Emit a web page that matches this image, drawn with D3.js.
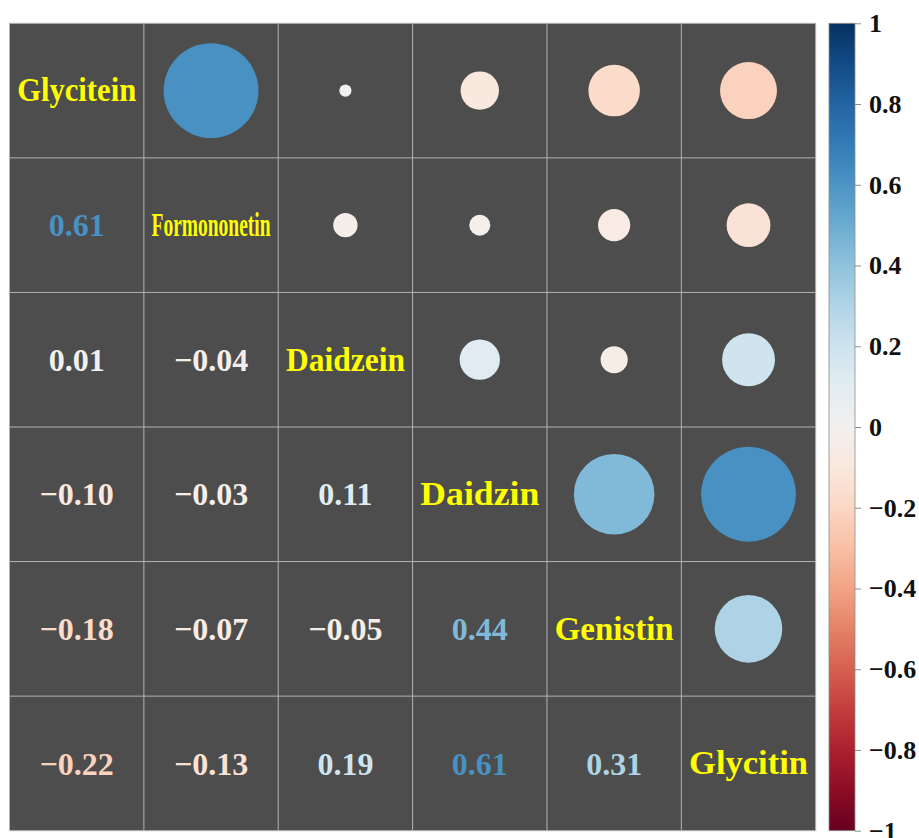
<!DOCTYPE html>
<html>
<head>
<meta charset="utf-8">
<script src="https://cdn.jsdelivr.net/npm/d3@7"></script>
<style>
  html, body { margin: 0; padding: 0; background: #fff; }
  svg { display: block; }
</style>
</head>
<body>
<svg id="chart" width="919" height="838"></svg>
<script>
// Variables shown on the diagonal
const variables = ["Glycitein", "Formononetin", "Daidzein", "Daidzin", "Genistin", "Glycitin"];

// Pairwise correlations, one row per variable (lower triangle, row i vs columns 0..i-1)
const rowGlycitein    = [];
const rowFormononetin = [0.61];
const rowDaidzein     = [0.01, -0.04];
const rowDaidzin      = [-0.10, -0.03, 0.11];
const rowGenistin     = [-0.18, -0.07, -0.05, 0.44];
const rowGlycitin     = [-0.22, -0.13, 0.19, 0.61, 0.31];
const lowerRows = [rowGlycitein, rowFormononetin, rowDaidzein, rowDaidzin, rowGenistin, rowGlycitin];

// Colour bar tick values
const barTicks = [1, 0.8, 0.6, 0.4, 0.2, 0, -0.2, -0.4, -0.6, -0.8, -1];

const svg = d3.select("#chart");
const n = variables.length;

const grid = { x0: 9.5, x1: 815.7, y0: 23.3, y1: 830.7 };
const x = d3.scaleBand().domain(d3.range(n)).range([grid.x0, grid.x1]);
const y = d3.scaleBand().domain(d3.range(n)).range([grid.y0, grid.y1]);
const color = d3.scaleSequential(t => d3.interpolateRdBu(t)).domain([-1, 1]);
const cellW = x.bandwidth();
const radius = v => Math.sqrt(Math.abs(v)) * 0.452 * cellW;

const fmt = v => (v < 0 ? "\u2212" : "") + Math.abs(v).toFixed(2);
const FONT = "'Liberation Serif', 'DejaVu Serif', serif";

// full symmetric matrix built from the lower triangle
const cells = [];
for (let i = 0; i < n; i++) {
  for (let j = 0; j < n; j++) {
    let v = null;
    if (i > j) v = lowerRows[i][j];
    else if (j > i) v = lowerRows[j][i];
    cells.push({ i, j, v });
  }
}

// background panel
svg.append("rect")
  .attr("x", grid.x0).attr("y", grid.y0)
  .attr("width", grid.x1 - grid.x0).attr("height", grid.y1 - grid.y0)
  .attr("fill", "#4d4d4d");

// grid lines
const gl = svg.append("g").attr("stroke", "#b3b3b3").attr("stroke-width", 1);
for (let k = 0; k <= n; k++) {
  const xv = k < n ? x(k) : grid.x1;
  const yv = k < n ? y(k) : grid.y1;
  gl.append("line").attr("x1", xv).attr("x2", xv).attr("y1", grid.y0).attr("y2", grid.y1);
  gl.append("line").attr("y1", yv).attr("y2", yv).attr("x1", grid.x0).attr("x2", grid.x1);
}

// upper triangle: circles
svg.append("g").selectAll("circle")
  .data(cells.filter(d => d.j > d.i))
  .join("circle")
  .attr("cx", d => x(d.j) + cellW / 2)
  .attr("cy", d => y(d.i) + y.bandwidth() / 2)
  .attr("r", d => radius(d.v))
  .attr("fill", d => color(d.v));

// lower triangle: coefficients
svg.append("g").selectAll("text")
  .data(cells.filter(d => d.i > d.j))
  .join("text")
  .attr("x", d => x(d.j) + cellW / 2)
  .attr("y", d => y(d.i) + y.bandwidth() / 2)
  .attr("dy", "0.35em")
  .attr("text-anchor", "middle")
  .attr("font-family", FONT)
  .attr("font-weight", "bold")
  .attr("font-size", 32)
  .attr("fill", d => color(d.v))
  .text(d => fmt(d.v));

// diagonal: variable names
svg.append("g").selectAll("text")
  .data(variables)
  .join("text")
  .attr("x", (d, k) => x(k) + cellW / 2 - 59.5)
  .attr("y", (d, k) => y(k) + y.bandwidth() / 2)
  .attr("dy", "0.33em")
  .attr("font-family", FONT)
  .attr("font-weight", "bold")
  .attr("font-size", 33)
  .attr("textLength", 119)
  .attr("lengthAdjust", "spacingAndGlyphs")
  .attr("fill", "#ffff00")
  .text(d => d);

// colour bar
const bar = { x: 829, w: 26 };
const cb = d3.scaleLinear().domain([-1, 1]).range([grid.y1, grid.y0]);
const defs = svg.append("defs");
const grad = defs.append("linearGradient").attr("id", "rdbu")
  .attr("x1", 0).attr("y1", 1).attr("x2", 0).attr("y2", 0);
d3.range(0, 1.0001, 0.05).forEach(t => {
  grad.append("stop").attr("offset", t).attr("stop-color", d3.interpolateRdBu(t));
});
svg.append("rect")
  .attr("x", bar.x).attr("y", grid.y0)
  .attr("width", bar.w).attr("height", grid.y1 - grid.y0)
  .attr("fill", "url(#rdbu)")
  .attr("stroke", "#8c8c8c").attr("stroke-width", 0.8);

const axis = d3.axisRight(cb)
  .tickValues(barTicks)
  .tickSize(6)
  .tickPadding(8)
  .tickFormat(v => v === 0 || Math.abs(v) === 1 ? (v < 0 ? "\u2212" : "") + Math.abs(v) : (v < 0 ? "\u2212" : "") + Math.abs(v).toFixed(1));
const ax = svg.append("g")
  .attr("transform", `translate(${bar.x + bar.w},0)`)
  .call(axis);
ax.select(".domain").remove();
ax.selectAll(".tick line").attr("stroke", "#8c8c8c");
ax.selectAll(".tick text")
  .attr("font-family", FONT)
  .attr("font-weight", "bold")
  .attr("font-size", 26)
  .attr("fill", "#111");
</script>
</body>
</html>
